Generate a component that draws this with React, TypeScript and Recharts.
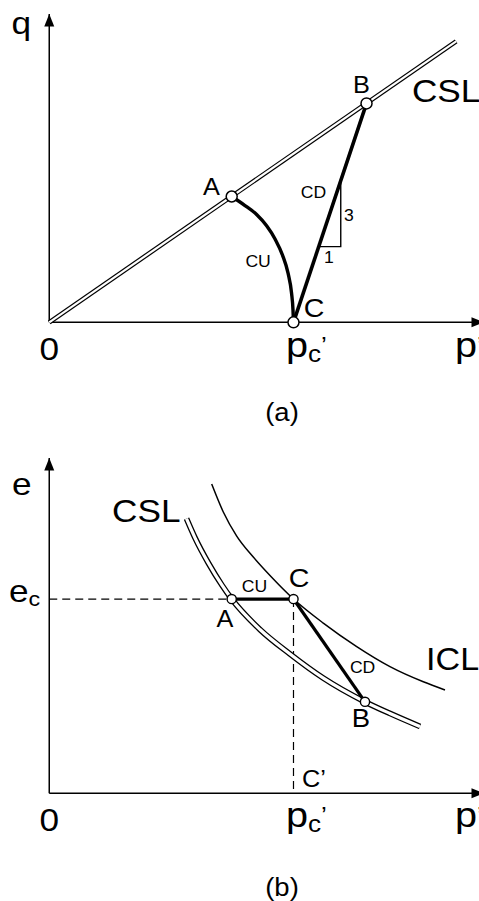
import { ComposedChart, Line, XAxis, YAxis, ReferenceDot } from "recharts";

const FONT = "'Liberation Sans', Arial, Helvetica, sans-serif";
const STRETCH = 1.1;

// (a) q – p' plane, p' scaled so that p_c' = 100, q on the same scale
const qpAxisP = [{ p: 0, q: 0 }, { p: 178, q: 0 }];
const qpAxisQ = [{ p: 0, q: 0 }, { p: 0, q: 126.2 }];
const qpCsl = [{ p: 0, q: 0 }, { p: 166.6, q: 115.0 }];
const qpCu = [
  { p: 74.7, q: 51.5 },
  { p: 80, q: 47.9 },
  { p: 85, q: 44.0 },
  { p: 89, q: 39.5 },
  { p: 92.5, q: 34.0 },
  { p: 95.5, q: 27.5 },
  { p: 97.8, q: 20.0 },
  { p: 99.2, q: 12.0 },
  { p: 99.8, q: 5.0 },
  { p: 100, q: 0 },
];
const qpCd = [{ p: 100, q: 0 }, { p: 129.9, q: 89.6 }];
const qpSlope = [{ p: 110.35, q: 31 }, { p: 119.35, q: 31 }, { p: 119.35, q: 58 }];
const qpPoints = [{ p: 74.7, q: 51.5 }, { p: 129.9, q: 89.6 }, { p: 100, q: 0 }];

// (b) e – p' plane, e scaled so that e_c = 1
const epAxisP = [{ p: 0, e: 0 }, { p: 178, e: 0 }];
const epAxisE = [{ p: 0, e: 0 }, { p: 0, e: 1.726 }];
const epCsl = [
  { p: 56.19, e: 1.414 },
  { p: 59.68, e: 1.315 },
  { p: 65.2, e: 1.184 },
  { p: 70.73, e: 1.071 },
  { p: 74.7, e: 1.0 },
  { p: 86.29, e: 0.843 },
  { p: 98.57, e: 0.717 },
  { p: 112.08, e: 0.594 },
  { p: 129.28, e: 0.471 },
  { p: 139.51, e: 0.411 },
  { p: 151.8, e: 0.344 },
];
const epIcl = [
  { p: 66.51, e: 1.592 },
  { p: 71.26, e: 1.448 },
  { p: 76.75, e: 1.324 },
  { p: 83.54, e: 1.216 },
  { p: 90.38, e: 1.121 },
  { p: 100, e: 1.0 },
  { p: 112.2, e: 0.876 },
  { p: 125.88, e: 0.755 },
  { p: 139.5, e: 0.652 },
  { p: 153.15, e: 0.574 },
  { p: 162.03, e: 0.532 },
];
const epCu = [{ p: 74.7, e: 1.0 }, { p: 100, e: 1.0 }];
const epCd = [{ p: 100, e: 1.0 }, { p: 129.28, e: 0.471 }];
const epGuideE = [{ p: 0, e: 1.0 }, { p: 74.7, e: 1.0 }];
const epGuideP = [{ p: 100, e: 1.0 }, { p: 100, e: 0 }];
const epPoints = [{ p: 74.7, e: 1.0 }, { p: 100, e: 1.0 }, { p: 129.28, e: 0.471 }];

type Tag = {
  p: number;
  v: number;
  text: string;
  size: number;
  anchor?: "start" | "middle" | "end";
  sub?: string;
  prime?: boolean;
};

const tagsA: Tag[] = [
  { p: -15.5, v: 118.0, text: "q", size: 32 },
  { p: 0, v: -15.4, text: "0", size: 32, anchor: "middle" },
  { p: 96.9, v: -14.2, text: "p", sub: "c", prime: true, size: 36 },
  { p: 166.1, v: -14.2, text: "p", prime: true, size: 36 },
  { p: 95.3, v: -40.4, text: "(a)", size: 25, anchor: "middle" },
  { p: 148.5, v: 90.3, text: "CSL", size: 32 },
  { p: 127.8, v: 93.9, text: "B", size: 23, anchor: "middle" },
  { p: 66.4, v: 52.3, text: "A", size: 23, anchor: "middle" },
  { p: 108.4, v: 2.2, text: "C", size: 26, anchor: "middle" },
  { p: 108.2, v: 50.9, text: "CD", size: 16, anchor: "middle" },
  { p: 120.7, v: 41.5, text: "3", size: 16 },
  { p: 114.5, v: 24.1, text: "1", size: 16, anchor: "middle" },
  { p: 85.5, v: 22.6, text: "CU", size: 16, anchor: "middle" },
];

const tagsB: Tag[] = [
  { p: -15.25, v: 1.535, text: "e", size: 32 },
  { p: -16.48, v: 0.987, text: "e", sub: "c", size: 32 },
  { p: 25.7, v: 1.398, text: "CSL", size: 32 },
  { p: 154.3, v: 0.635, text: "ICL", size: 31 },
  { p: 102.3, v: 1.062, text: "C", size: 26, anchor: "middle" },
  { p: 71.96, v: 0.856, text: "A", size: 23, anchor: "middle" },
  { p: 127.6, v: 0.341, text: "B", size: 25, anchor: "middle" },
  { p: 84.0, v: 1.036, text: "CU", size: 16, anchor: "middle" },
  { p: 128.3, v: 0.619, text: "CD", size: 16, anchor: "middle" },
  { p: 103.5, v: 0.032, text: "C’", size: 23 },
  { p: 0, v: -0.194, text: "0", size: 32, anchor: "middle" },
  { p: 96.9, v: -0.173, text: "p", sub: "c", prime: true, size: 36 },
  { p: 166.1, v: -0.173, text: "p", prime: true, size: 36 },
  { p: 95.3, v: -0.529, text: "(b)", size: 25, anchor: "middle" },
];

const tagShape = (t: Tag) => (props: any) => {
  const subSize = t.size * 0.66;
  const subDy = t.size * 0.15;
  const primeDy = t.sub ? -(subDy + t.size * 0.08) : -t.size * 0.08;
  return (
    <text
      transform={`translate(${props.cx},${props.cy}) scale(${STRETCH},1)`}
      fontFamily={FONT}
      fontSize={t.size}
      textAnchor={t.anchor ?? "start"}
      fill="#000"
    >
      {t.text}
      {t.sub ? (
        <tspan fontSize={subSize} dy={subDy}>
          {t.sub}
        </tspan>
      ) : null}
      {t.prime ? (
        <tspan fontSize={subSize} dy={primeDy}>
          ’
        </tspan>
      ) : null}
    </text>
  );
};

const arrowShape = (dir: "up" | "right") => (props: any) => {
  const { cx, cy } = props;
  const pts =
    dir === "up"
      ? `${cx},${cy} ${cx - 5},${cy + 12.5} ${cx + 5},${cy + 12.5}`
      : `${cx},${cy} ${cx - 12.5},${cy - 5} ${cx - 12.5},${cy + 5}`;
  return <polygon points={pts} fill="#000" />;
};

const thin = { stroke: "#000", strokeWidth: 1.5, dot: false, activeDot: false, isAnimationActive: false, type: "linear" as const };

const PanelA = () => (
  <ComposedChart width={484} height={440} margin={{ top: 9.6, right: 0, bottom: 0.4, left: 0.4 }}>
    <XAxis type="number" dataKey="p" domain={[-20, 178]} hide />
    <YAxis type="number" dataKey="q" domain={[-48, 128]} hide />
    <Line data={qpAxisP} dataKey="q" {...thin} />
    <Line data={qpAxisQ} dataKey="q" {...thin} />
    {/* critical state line drawn as a hollow double line */}
    <Line data={qpCsl} dataKey="q" {...thin} strokeWidth={4.6} />
    <Line data={qpCsl} dataKey="q" {...thin} stroke="#fff" strokeWidth={2.2} />
    <Line data={qpSlope} dataKey="q" {...thin} strokeWidth={1.4} />
    <Line data={qpCu} dataKey="q" {...thin} type="monotone" strokeWidth={3.4} />
    <Line data={qpCd} dataKey="q" {...thin} strokeWidth={3.6} />
    <ReferenceDot x={0} y={126.2} ifOverflow="visible" shape={arrowShape("up")} />
    <ReferenceDot x={178} y={0} ifOverflow="visible" shape={arrowShape("right")} />
    {qpPoints.map((d, i) => (
      <ReferenceDot key={`pa${i}`} x={d.p} y={d.q} r={5.5} fill="#fff" stroke="#000" strokeWidth={1.5} ifOverflow="visible" />
    ))}
    {tagsA.map((t, i) => (
      <ReferenceDot key={`ta${i}`} x={t.p} y={t.v} ifOverflow="visible" shape={tagShape(t)} />
    ))}
  </ComposedChart>
);

const PanelB = () => (
  <ComposedChart width={484} height={461} margin={{ top: 13.3, right: 0, bottom: 0.8, left: 0.4 }}>
    <XAxis type="number" dataKey="p" domain={[-20, 178]} hide />
    <YAxis type="number" dataKey="e" domain={[-0.55, 1.75]} hide />
    <Line data={epAxisP} dataKey="e" {...thin} />
    <Line data={epAxisE} dataKey="e" {...thin} />
    <Line data={epGuideE} dataKey="e" {...thin} strokeWidth={1.2} strokeDasharray="8 5" />
    <Line data={epGuideP} dataKey="e" {...thin} strokeWidth={1.2} strokeDasharray="8 5" />
    <Line data={epIcl} dataKey="e" {...thin} type="monotone" />
    <Line data={epCsl} dataKey="e" {...thin} type="monotone" strokeWidth={5.8} />
    <Line data={epCsl} dataKey="e" {...thin} type="monotone" stroke="#fff" strokeWidth={3.2} />
    {epPoints.map((d, i) => (
      <ReferenceDot key={`pb${i}`} x={d.p} y={d.e} r={4.6} fill="#fff" stroke="#000" strokeWidth={1.4} ifOverflow="visible" />
    ))}
    <Line data={epCu} dataKey="e" {...thin} strokeWidth={3.2} />
    <Line data={epCd} dataKey="e" {...thin} strokeWidth={3.2} />
    <ReferenceDot x={0} y={1.726} ifOverflow="visible" shape={arrowShape("up")} />
    <ReferenceDot x={178} y={0} ifOverflow="visible" shape={arrowShape("right")} />
    {tagsB.map((t, i) => (
      <ReferenceDot key={`tb${i}`} x={t.p} y={t.v} ifOverflow="visible" shape={tagShape(t)} />
    ))}
  </ComposedChart>
);

export default function App() {
  return (
    <div
      style={{
        position: "absolute",
        left: 0,
        top: 0,
        width: 479,
        height: 901,
        overflow: "hidden",
        background: "#fff",
      }}
    >
      <PanelA />
      <PanelB />
    </div>
  );
}
